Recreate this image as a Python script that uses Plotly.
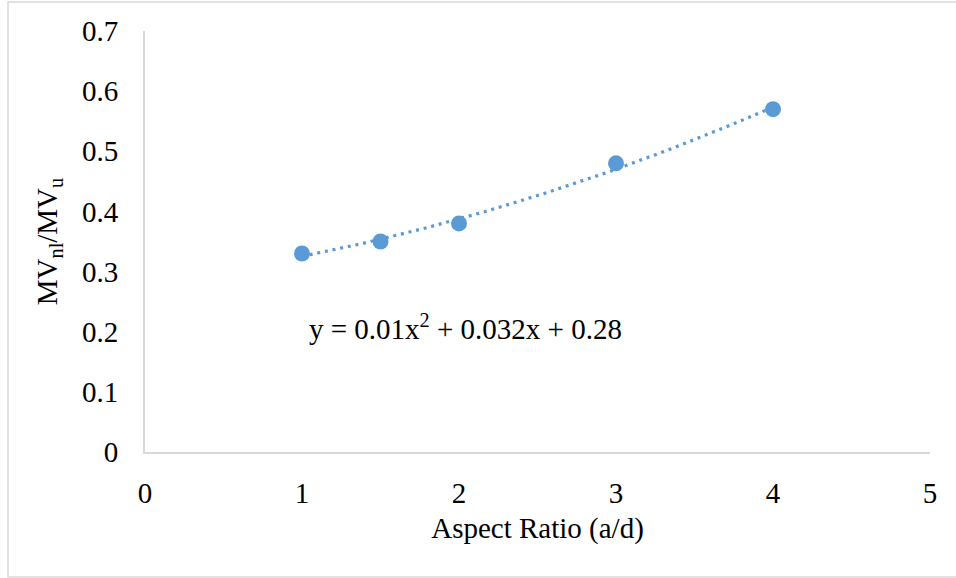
import numpy as np
import plotly.graph_objects as go

aspect_ratio = [1, 1.5, 2, 3, 4]
mv_ratio = [0.33, 0.35, 0.38, 0.48, 0.57]
x_ticks = [0, 1, 2, 3, 4, 5]
y_ticks = [0, 0.1, 0.2, 0.3, 0.4, 0.5, 0.6, 0.7]
equation = "y = 0.01x<sup>2</sup> + 0.032x + 0.28"

color = "#5B9BD5"
font_family = "Liberation Serif, Times New Roman, serif"
fs = 29

# polynomial (order 2) trendline fitted to the data, as Excel does
coef = np.polyfit(aspect_ratio, mv_ratio, 2)
xt = np.linspace(min(aspect_ratio), max(aspect_ratio), 100)
yt = np.polyval(coef, xt)

fig = go.Figure()
fig.add_trace(go.Scatter(x=xt, y=yt, mode="lines",
                         line=dict(color=color, width=3.2, dash="3px,4.8px"),
                         hoverinfo="skip", showlegend=False))
fig.add_trace(go.Scatter(x=aspect_ratio, y=mv_ratio, mode="markers",
                         marker=dict(color=color, size=16),
                         showlegend=False))

fig.add_annotation(x=1.03, y=0.208, xref="x", yref="y", text=equation,
                   showarrow=False, xanchor="left", yanchor="middle",
                   font=dict(family=font_family, size=fs, color="#000000"))

L, R, T, B = 145, 26, 31, 126
W, H = 956, 578
pw, ph = W - L - R, H - T - B
fig.add_shape(type="rect", xref="paper", yref="paper",
              x0=(8 - L) / pw, x1=(960 - L) / pw,
              y0=(H - B - 577) / ph, y1=(H - B - 2) / ph,
              line=dict(color="#D9D9D9", width=1.5), layer="below")

fig.update_layout(
    width=W, height=H,
    margin=dict(l=L, r=R, t=T, b=B),
    plot_bgcolor="white", paper_bgcolor="white",
    font=dict(family=font_family, size=fs, color="#000000"),
    xaxis=dict(range=[0, 5], tickvals=x_ticks, showgrid=False, zeroline=False,
               showline=True, linecolor="#D9D9D9", linewidth=2,
               ticks="", ticklabelstandoff=14,
               title=dict(text="Aspect Ratio (a/d)", standoff=10,
                          font=dict(size=fs))),
    yaxis=dict(range=[0, 0.7], tickvals=y_ticks, showgrid=False, zeroline=False,
               showline=True, linecolor="#D9D9D9", linewidth=2,
               ticks="", ticklabelstandoff=19,
               title=dict(text="MV<sub>nl</sub>/MV<sub>u</sub>", standoff=16,
                          font=dict(size=fs))),
)

fig.write_html("out.html", config={"displayModeBar": False},
               post_script="document.body.style.margin='0';")
